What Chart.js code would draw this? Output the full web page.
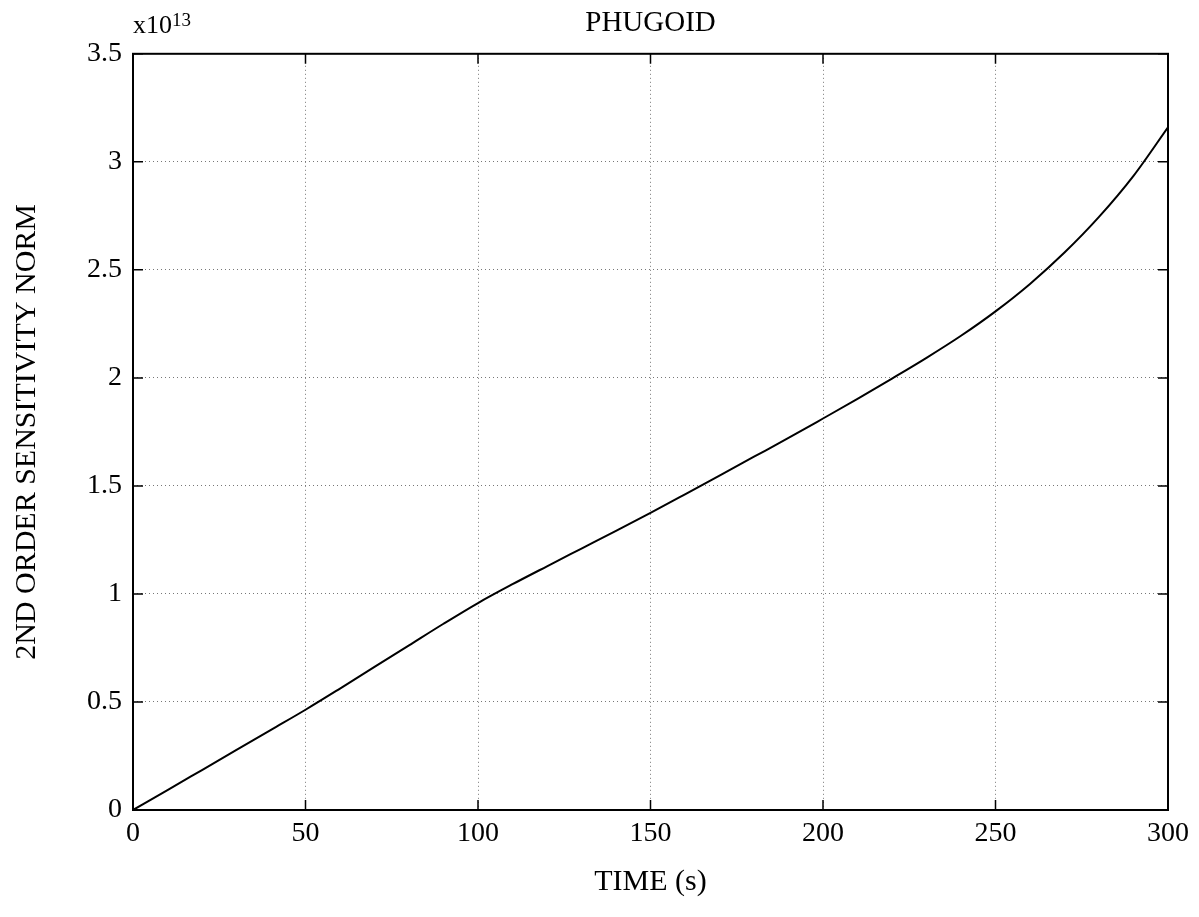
<!DOCTYPE html>
<html>
<head>
<meta charset="utf-8">
<title>PHUGOID</title>
<script src="https://cdn.jsdelivr.net/npm/chart.js@4.4.1/dist/chart.umd.min.js"></script>
<style>
    html, body { margin: 0; padding: 0; background: #fff; }
    #wrap { width: 1199px; height: 917px; }
</style>
</head>
<body>
<div id="wrap"><canvas id="chart" width="1199" height="917"></canvas></div>
<script>
// time axis (s) and the norm, in units of 1e13
const timeSec = [0, 10, 20, 30, 40, 50, 60, 70, 80, 90, 100, 110, 120, 130, 140, 150,
    160, 170, 180, 190, 200, 210, 220, 230, 240, 250, 260, 270, 280, 290, 300];
const sensNorm = [0, 0.092, 0.185, 0.278, 0.371, 0.464, 0.562, 0.662, 0.762, 0.862, 0.958,
    1.045, 1.128, 1.21, 1.292, 1.375, 1.461, 1.548, 1.635, 1.722, 1.812, 1.903, 1.997,
    2.093, 2.195, 2.308, 2.435, 2.58, 2.745, 2.935, 3.16];
const xTicks = [0, 50, 100, 150, 200, 250, 300];
const yTicks = [0, 0.5, 1, 1.5, 2, 2.5, 3, 3.5];

const FONT = '"Liberation Serif", "Times New Roman", serif';
const TICK = 10;

// MATLAB style box: inward ticks on all four sides + exponent label
const boxTicks = {
    id: 'boxTicks',
    afterDatasetsDraw(chart) {
        const { ctx, chartArea: a, scales: { x, y } } = chart;
        ctx.save();
        ctx.strokeStyle = '#000';
        ctx.lineWidth = 1.5;
        ctx.beginPath();
        xTicks.forEach(v => {
            const px = x.getPixelForValue(v);
            ctx.moveTo(px, a.bottom);
            ctx.lineTo(px, a.bottom - TICK);
            ctx.moveTo(px, a.top);
            ctx.lineTo(px, a.top + TICK);
        });
        yTicks.forEach(v => {
            const py = y.getPixelForValue(v);
            ctx.moveTo(a.left, py);
            ctx.lineTo(a.left + TICK, py);
            ctx.moveTo(a.right, py);
            ctx.lineTo(a.right - TICK, py);
        });
        ctx.stroke();

        ctx.lineWidth = 2;
        ctx.strokeRect(a.left, a.top, a.right - a.left, a.bottom - a.top);

        // x10^13
        ctx.fillStyle = '#000';
        ctx.textBaseline = 'alphabetic';
        ctx.textAlign = 'left';
        ctx.font = '26px ' + FONT;
        ctx.fillText('x10', a.left, 33);
        const w = ctx.measureText('x10').width;
        ctx.font = '19px ' + FONT;
        ctx.fillText('13', a.left + w, 26);
        ctx.restore();
    }
};

const ctx = document.getElementById('chart').getContext('2d');
const chart = new Chart(ctx, {
    type: 'line',
    data: {
        datasets: [{
            label: '2nd order sensitivity norm',
            data: timeSec.map((t, i) => ({ x: t, y: sensNorm[i] })),
            borderColor: '#000',
            borderWidth: 2,
            pointRadius: 0,
            fill: false,
            cubicInterpolationMode: 'monotone'
        }]
    },
    options: {
        responsive: false,
        animation: false,
        layout: {
            padding: { left: 0, right: 31, top: 0, bottom: 0 }
        },
        plugins: {
            legend: { display: false },
            tooltip: { enabled: false },
            title: {
                display: true,
                text: 'PHUGOID',
                fullSize: false,
                color: '#000',
                font: { family: FONT, size: 29, weight: 'normal' },
                padding: { top: 6, bottom: 13 }
            }
        },
        scales: {
            x: {
                type: 'linear',
                min: 0,
                max: 300,
                afterBuildTicks: s => { s.ticks = xTicks.map(v => ({ value: v })); },
                afterFit: s => { s.height = 107; },
                grid: {
                    color: '#777',
                    lineWidth: 1,
                    drawTicks: false
                },
                border: { display: false, dash: [1, 3] },
                ticks: {
                    color: '#000',
                    padding: 7,
                    maxRotation: 0,
                    font: { family: FONT, size: 28 },
                    callback: v => String(v)
                },
                title: {
                    display: true,
                    text: 'TIME (s)',
                    color: '#000',
                    font: { family: FONT, size: 30 },
                    padding: { top: 0, bottom: 17 }
                }
            },
            y: {
                type: 'linear',
                min: 0,
                max: 3.5,
                afterBuildTicks: s => { s.ticks = yTicks.map(v => ({ value: v })); },
                afterFit: s => { s.width = 133; },
                grid: {
                    color: '#777',
                    lineWidth: 1,
                    drawTicks: false
                },
                border: { display: false, dash: [1, 3] },
                ticks: {
                    color: '#000',
                    padding: 11,
                    font: { family: FONT, size: 28 },
                    callback: v => String(v)
                },
                title: {
                    display: true,
                    text: '2ND ORDER SENSITIVITY NORM',
                    color: '#000',
                    font: { family: FONT, size: 30 },
                    padding: { top: 9, bottom: 0 }
                }
            }
        }
    },
    plugins: [boxTicks]
});
</script>
</body>
</html>
